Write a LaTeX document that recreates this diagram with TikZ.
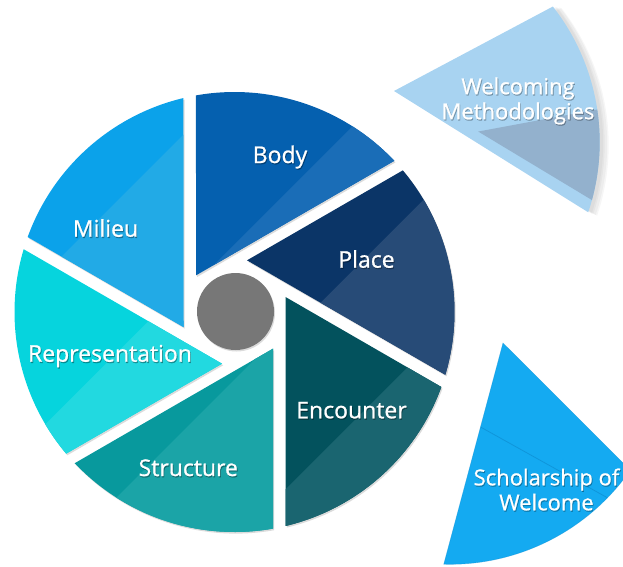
\documentclass[tikz,border=0pt]{standalone}
\usepackage{fontspec}
\setmainfont{Open Sans}
\newfontfamily\lblfont{Open Sans}[FakeBold=0.9]
\begin{document}
\begin{tikzpicture}[x=1pt,y=1pt]
% palette: main tone and lighter lower-right tone of each blade
\definecolor{bodyA}{HTML}{0560AF}\definecolor{bodyB}{HTML}{1A6DB7}
\definecolor{placeA}{HTML}{0B3567}\definecolor{placeB}{HTML}{274B77}
\definecolor{encA}{HTML}{03525D}\definecolor{encB}{HTML}{1A6570}
\definecolor{strA}{HTML}{08999D}\definecolor{strB}{HTML}{1BA4A7}
\definecolor{repA}{HTML}{06D4DD}\definecolor{repB}{HTML}{22D9E0}
\definecolor{milA}{HTML}{0BA2EA}\definecolor{milB}{HTML}{22AAE6}
\definecolor{hubgray}{HTML}{777777}
\definecolor{welA}{HTML}{A8D3F1}\definecolor{welB}{HTML}{93B1CD}
\definecolor{schA}{HTML}{14AAF1}\definecolor{schLine}{HTML}{0E8FD3}
\tikzset{
  lbl/.style={text=white, font=\lblfont\fontsize{23}{27}\selectfont, inner sep=0pt, anchor=base},
  lblshade/.style={text=black, opacity=0.3, font=\lblfont\fontsize{23}{27}\selectfont, inner sep=0pt, anchor=base},
  lbltwo/.style={text=white, font=\lblfont\fontsize{22}{25}\selectfont, inner sep=0pt, align=center},
  lbltwoshade/.style={text=black, opacity=0.25, font=\lblfont\fontsize{22}{25}\selectfont, inner sep=0pt, align=center},
  softshadow/.style={fill=black, opacity=0.14}
}
\useasboundingbox (-234.5,-254) rectangle (388.5,312);
\clip (-234.5,-254) rectangle (388.5,312);

% six shutter blades around the hub
\foreach \j/\ca/\cb/\k in {0/bodyA/bodyB/-67.7, 1/placeA/placeB/76.8, 2/encA/encB/228.4,
                           3/strA/strB/67.7, 4/repA/repB/-76.8, 5/milA/milB/-228.4} {
  \begin{scope}[shift={(1.2,-1.6)}, rotate=-60*\j]
    \fill[softshadow] (-38.5,36.66) -- (100.08:220) arc[start angle=100.08, end angle=43.42, radius=220] -- cycle;
  \end{scope}
  \begin{scope}[rotate=-60*\j]
    \fill[\ca] (-38.5,36.66) -- (100.08:220) arc[start angle=100.08, end angle=43.42, radius=220] -- cycle;
    \clip (-38.5,36.66) -- (100.08:220) arc[start angle=100.08, end angle=43.42, radius=220] -- cycle;
    \fill[\cb, rotate=60*\j] (\k-500,-500) -- (\k+500,500) -- (\k+1000,0) -- (\k,-1000) -- cycle;
  \end{scope}
}

% hub
\fill[softshadow] (2,-1) circle[radius=38.5];
\node[circle, fill=hubgray, minimum size=77pt, inner sep=0pt] (hub) at (1,0.5) {};

% detached blade: Welcoming Methodologies, with a soft shadow to its right
\foreach \s/\r in {7/222, 5.5/222, 4/221, 2.5/221} {
  \begin{scope}[shift={(159.5+\s,221-0.4*\s)}, rotate=-2, shift={(-12.5,-51.67)}]
    \fill[black, opacity=0.035] (12.5,51.67) -- (40.08:\r) arc[start angle=40.08, end angle=-16.58, radius=\r] -- cycle;
  \end{scope}
}
\begin{scope}[shift={(159.5,221)}, rotate=-2, shift={(-12.5,-51.67)}]
  \fill[welA] (12.5,51.67) -- (40.08:220) arc[start angle=40.08, end angle=-16.58, radius=220] -- cycle;
  \clip (12.5,51.67) -- (40.08:220) arc[start angle=40.08, end angle=-16.58, radius=220] -- cycle;
  \fill[welB, rotate=2, shift={(-159.5,-221)}] (245.5+12.5,180+51.67) -- (385.5+12.5,206+51.67) -- (425.5+12.5,112+51.67) -- (416.5+12.5,77+51.67) -- cycle;
\end{scope}

% detached blade: Scholarship of Welcome, with its inner seam
\coordinate (seamA) at (246,-115);
\coordinate (seamB) at (385,-192.5);
\begin{scope}[shift={(268.5,-31)}, rotate=-15, shift={(-51.0,-15.0)}]
  \fill[schA] (51.0,15.0) -- (-19.92:220) arc[start angle=-19.92, end angle=-76.58, radius=220] -- cycle;
  \draw[schLine, opacity=0.45, line width=0.6pt] (51.0,15.0) -- (-19.92:220) arc[start angle=-19.92, end angle=-76.58, radius=220] -- cycle;
  \clip (51.0,15.0) -- (-19.92:220) arc[start angle=-19.92, end angle=-76.58, radius=220] -- cycle;
  \draw[schLine, line width=0.8pt, opacity=0.75] (seamA) -- (seamB);
\end{scope}

% labels with a soft drop shadow
\foreach \n/\x/\y/\t in {body/45.5/149/Body, place/132/44.3/Place, encounter/117/-106.3/Encounter,
                          structure/-46.2/-164/Structure, representation/-124.5/-49.7/Representation,
                          milieu/-129/75.3/Milieu} {
  \node[lblshade] (\n-s) at (\x+0.8,\y-1.2) {\t};
  \node[lbl] (\n) at (\x,\y) {\t};
}
\node[lbltwoshade] (wel-s) at (284.3,209.8) {Welcoming\\Methodologies};
\node[lbltwo] (wel) at (283.5,211) {Welcoming\\Methodologies};
\node[lbltwoshade] (sch-s) at (312.8,-178.7) {Scholarship of\\Welcome};
\node[lbltwo] (sch) at (312,-177.5) {Scholarship of\\Welcome};
\end{tikzpicture}
\end{document}
